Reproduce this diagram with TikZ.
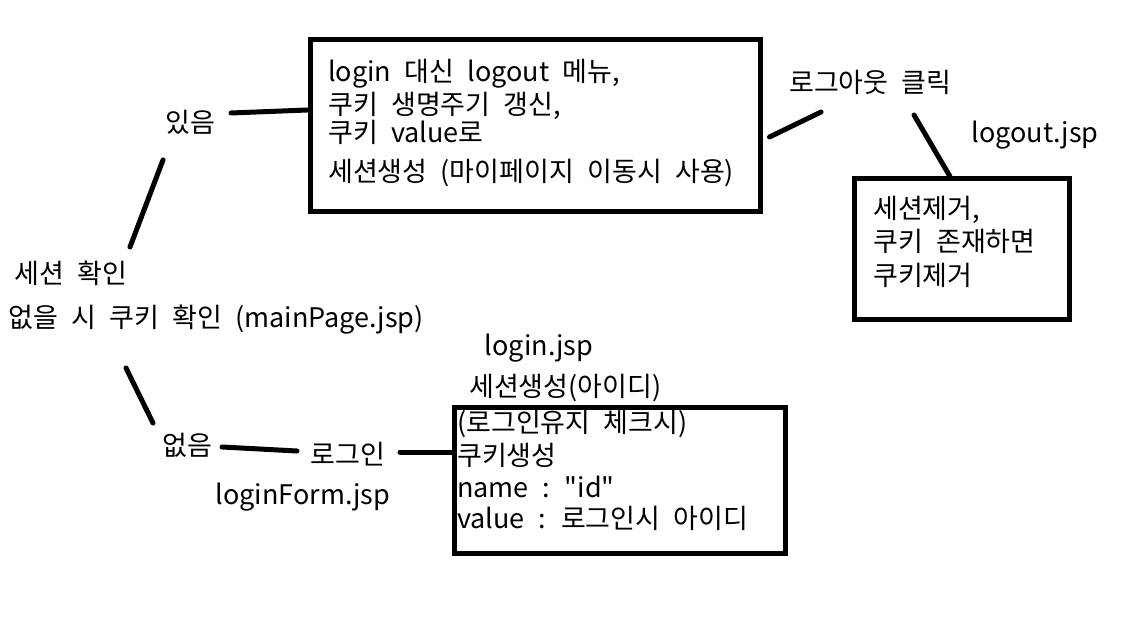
\documentclass[tikz,border=0pt]{standalone}
\usepackage{fontspec}
\setmainfont{Noto Sans CJK KR}[WordSpace=2.2]

\begin{document}
\begin{tikzpicture}[x=1pt, y=-1pt, font=\fontsize{27}{28}\selectfont]
  \tikzstyle{box}=[draw, line width=5pt, inner sep=0pt]
  \tikzstyle{note}=[inner sep=0pt, align=left, anchor=north west]
  \tikzstyle{word}=[inner sep=0pt]
  \tikzstyle{link}=[line width=5pt, line cap=round]

  \useasboundingbox (0, 0) rectangle (1131, 617);

  \path
    (535, 126) node[box, minimum width=450pt, minimum height=172pt] (menu) {}
    (620, 480) node[box, minimum width=331pt, minimum height=146pt] (loginbox) {}
    (962, 249) node[box, minimum width=215pt, minimum height=140pt] (logoutbox) {};

  \node[note] (menutext) at (328, 59)
    {login 대신 logout 메뉴,\\[3pt] 쿠키 생명주기 갱신,\\ 쿠키 value로\\[11pt] 세션생성 (마이페이지 이동시 사용)};
  \node[note] (logintext) at (457, 410)
    {(로그인유지 체크시)\\[5pt] 쿠키생성\\[4pt] name : \textquotedbl id\textquotedbl\\[3pt] value : 로그인시 아이디};
  \node[note] (logouttext) at (873, 196)
    {세션제거,\\[5pt] 쿠키 존재하면\\[6pt] 쿠키제거};

  \node[word] (yes) at (190, 122) {있음};
  \node[word, anchor=west] (check1) at (14, 273) {세션 확인};
  \node[word, anchor=west] (check2) at (8, 320) {없을 시 쿠키 확인 (mainPage.jsp)};
  \node[word] (no) at (187, 445) {없음};
  \node[word] (login) at (348, 454) {로그인};
  \node[word] (loginform) at (303, 497) {loginForm.jsp};
  \node[word] (loginjsp) at (539, 348) {login.jsp};
  \node[word, anchor=west] (session) at (469, 388) {세션생성(아이디)};
  \node[word, anchor=west] (logout) at (789, 82) {로그아웃 클릭};
  \node[word] (logoutjsp) at (1035, 135) {logout.jsp};

  \draw[link] ([shift={(116,-26)}]check1.west) -- ([shift={(-27,38)}]yes.center);
  \draw[link] ([shift={(41,-9)}]yes.center) -- ([shift={(0,-16)}]menu.west);
  \draw[link] ([shift={(118,48)}]check2.west) -- ([shift={(-34,-22)}]no.center);
  \draw[link] ([shift={(35,2)}]no.center) -- ([shift={(-51,-3)}]login.center);
  \draw[link] ([shift={(52,-2)}]login.center) -- ([shift={(0,-28)}]loginbox.west);
  \draw[link] ([shift={(7,11)}]menu.east) -- ([shift={(32,30)}]logout.west);
  \draw[link] ([shift={(125,33)}]logout.west) -- ([shift={(-12,0)}]logoutbox.north);
\end{tikzpicture}
\end{document}
